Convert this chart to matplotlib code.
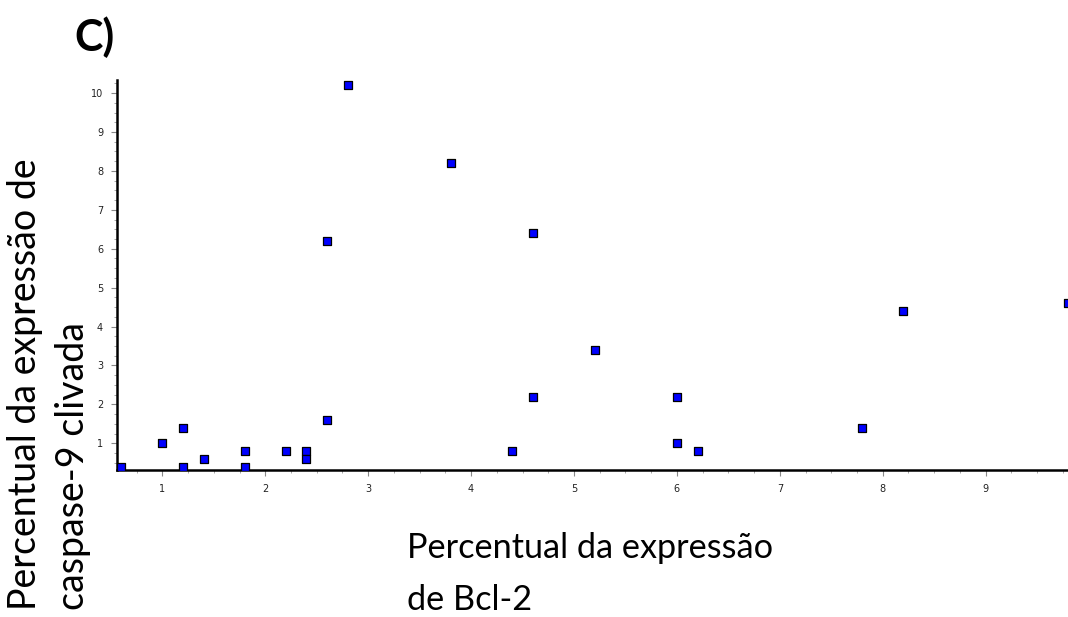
import numpy as np
import matplotlib.pyplot as plt
from matplotlib.ticker import MultipleLocator

# Bcl-2 (x) vs caspase-9 clivada (y)
bcl2 = [0.6, 1.0, 1.2, 1.2, 1.4, 1.8, 1.8, 2.2, 2.4, 2.4, 2.6, 2.6,
        2.8, 3.8, 4.4, 4.6, 4.6, 5.2, 6.0, 6.0, 6.2, 7.8, 8.2, 9.8]
casp9 = [0.4, 1.0, 1.4, 0.4, 0.6, 0.8, 0.4, 0.8, 0.8, 0.6, 1.6, 6.2,
         10.2, 8.2, 0.8, 6.4, 2.2, 3.4, 2.2, 1.0, 0.8, 1.4, 4.4, 4.6]
xticks = [1, 2, 3, 4, 5, 6, 7, 8, 9]
yticks = [1, 2, 3, 4, 5, 6, 7, 8, 9, 10]

fig = plt.figure(figsize=(10.68, 6.17), dpi=100)
ax = fig.add_axes([0.1096, 0.238, 0.8904, 0.632])

ax.scatter(bcl2, casp9, marker='s', s=26, facecolor='#0000ff',
           edgecolor='black', linewidth=0.9, zorder=3)

ax.set_xlim(0.56, 9.8)
ax.set_ylim(0.31, 10.33)
ax.set_xticks(xticks)
ax.set_yticks(yticks)
ax.xaxis.set_minor_locator(MultipleLocator(0.25))
ax.yaxis.set_minor_locator(MultipleLocator(0.25))
ax.tick_params(which='major', length=4, width=0.8, color='#888888',
               labelsize=7, pad=6, labelcolor='#222222')
ax.tick_params(which='minor', length=2, width=0.6, color='#999999')

for s in ['top', 'right']:
    ax.spines[s].set_visible(False)
for s in ['left', 'bottom']:
    ax.spines[s].set_linewidth(1.8)
    ax.spines[s].set_color('black')

fnt = ['Lato', 'DejaVu Sans']
# y label: two lines, left aligned (bottom after rotation)
fig.text(0.046, 0.012, 'Percentual da expressão de\ncaspase-9 clivada',
         rotation=90, ha='center', va='bottom', fontsize=27,
         family=fnt, linespacing=1.4, multialignment='left')
fig.text(0.381, 0.07, 'Percentual da expressão\nde Bcl-2', ha='left',
         va='center', fontsize=24.7, family=fnt, linespacing=1.75)
fig.text(0.07, 0.94, 'C)', ha='left', va='center', fontsize=31,
         fontweight='bold', family=fnt)

fig.savefig('out.png', dpi=100)
